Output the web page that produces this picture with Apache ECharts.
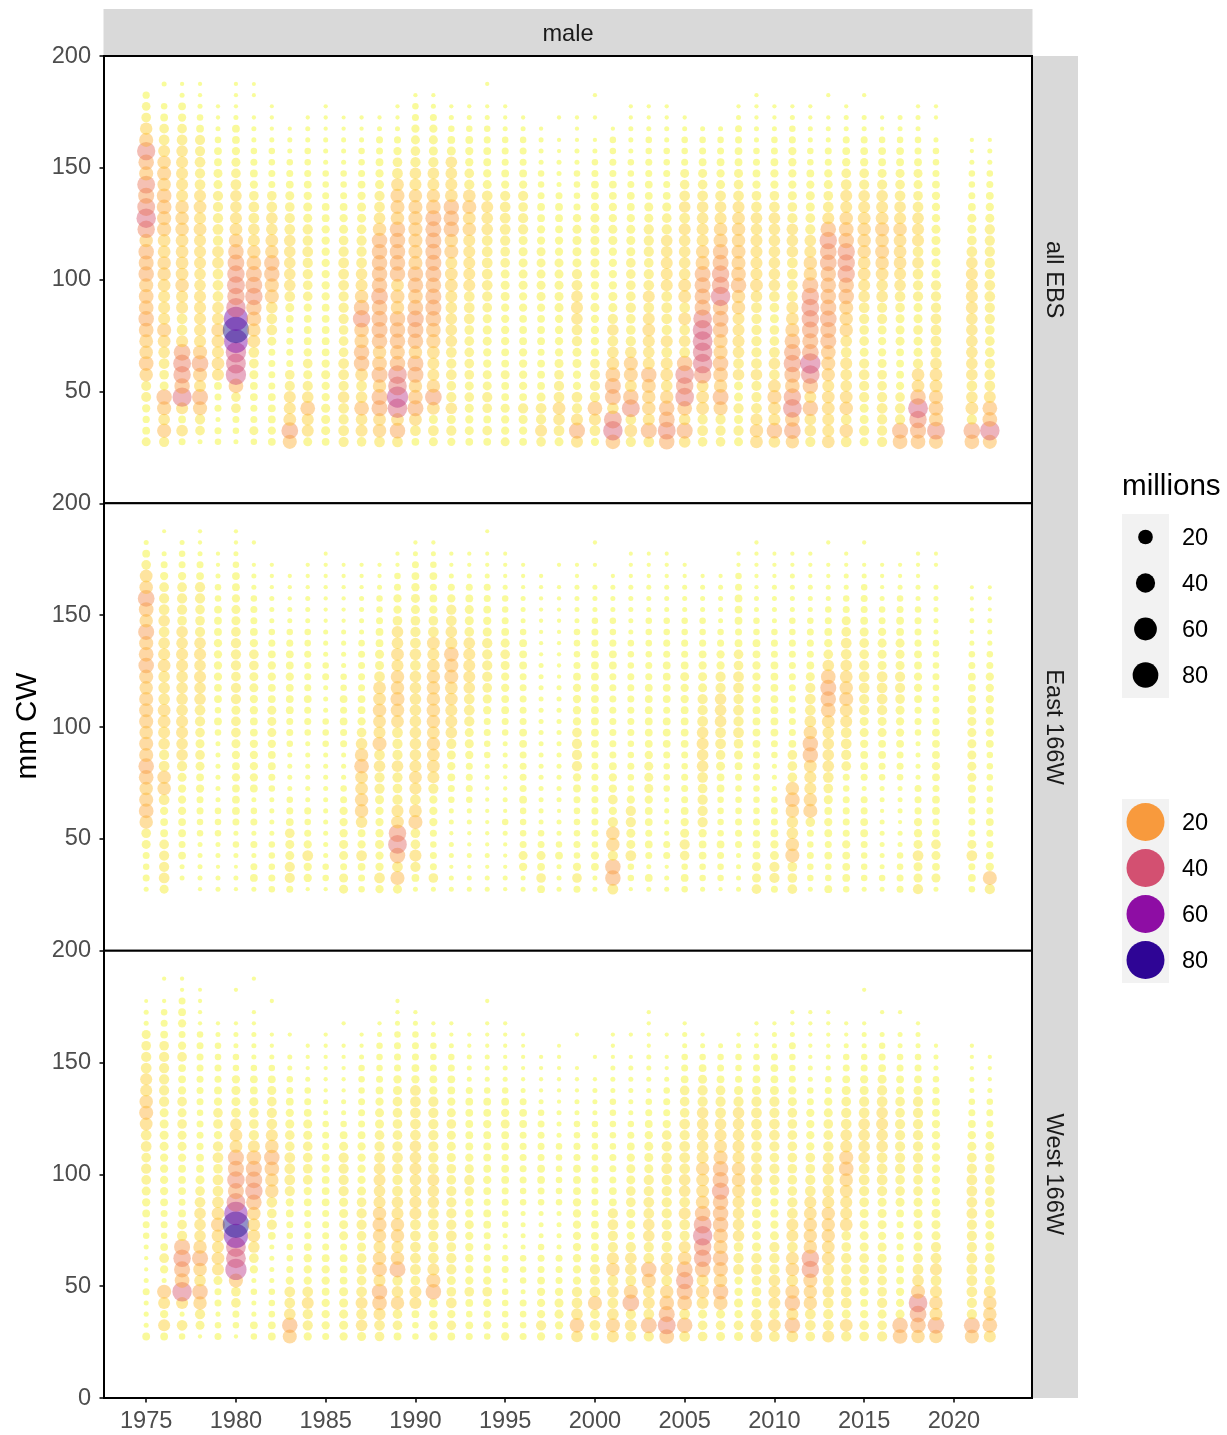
<!DOCTYPE html>
<html><head><meta charset="utf-8">
<style>html,body{margin:0;padding:0;background:#fff}#c{width:1227px;height:1435px}</style>
<script src="https://cdn.jsdelivr.net/npm/echarts@6/dist/echarts.min.js"></script>
</head><body><div id="c"></div>
<script>
const years=[1975,1976,1977,1978,1979,1980,1981,1982,1983,1984,1985,1986,1987,1988,1989,1990,1991,1992,1993,1994,1995,1996,1997,1998,1999,2000,2001,2002,2003,2004,2005,2006,2007,2008,2009,2010,2011,2012,2013,2014,2015,2016,2017,2018,2019,2021,2022];
const xTicks=[1975,1980,1985,1990,1995,2000,2005,2010,2015,2020];
const yTicks=[0,50,100,150,200];
const legendValues=[20,40,60,80];
const panelNames=['all EBS','East 166W','West 166W'];
const firstBin=27.5, binStep=5;
// values in millions, each list runs upward from the 27.5 mm bin; 0 = no point
const A1975=[3,1.5,1,2,4.5,4.5,13,17,13,14,17,20,17,17,15,20,18,20,13,28,38,30,22,30,15,20,32,15,10,4,2.5,1];
const A1976=[5,15,8,15,20,3,4,6,8,11,15,9,9,9,11,13,13,11,11,15,15,17,17,13,15,13,9,6,4,1.5,.7,0,.2];
const A1977=[.9,8,1.5,9,37,20,28,30,25,9,6,6,9,9,13,11,11,11,11,13,13,13,9,9,9,9,8,6,4,2,1.5,.2,.05];
const A1978=[.2,4,5,15,22,9,15,25,15,9,9,9,9,9,8,8,9,9,9,11,9,11,9,6,5,6,5,5,1.5,.7,.2,.05,.05];
const A1979=[.7,.9,.2,.9,.9,1.5,9,11,9,11,13,9,8,6,6,6,8,8,5,6,5,5,5,3,3,1.5,1.5,.7,.2,.05,.05];
const A1980=[.2,.7,.9,4,4,17,43,40,43,64,85,68,38,28,30,28,25,20,15,11,9,8,8,6,4,3,2,1.5,1.5,.2,.05,.05,.05];
const A1981=[.7,3,.9,.9,1.5,1.5,3,4,6,11,13,17,20,28,25,22,17,13,9,8,6,6,4,2,1.5,.9,.7,.2,.2,.05,0,.02,.02];
const A1982=[1.5,2,1.5,1.5,1.5,.9,.9,.9,.9,3,6,6,8,15,15,20,20,13,11,8,8,6,4,.9,.9,.7,.7,.2,.05,.05,.02];
const A1983=[15,25,11,9,9,5,4,.9,.9,.9,.9,1.5,3,6,8,8,8,8,8,6,5,4,3,1.5,.9,.7,.2,.2,.05];
const A1984=[3,9,9,17,8,5,3,4,2,1.5,1.5,1.5,2,4,4,5,5,6,5,5,3,3,2,1.5,.9,.7,.7,.2,.2,.05];
const A1985=[1.5,3,3,3,2,2,3,2,1.5,1.5,1.5,1.5,1.5,2,2,2,2,2,2,2,1.5,1.5,.9,.7,.7,.2,.2,.2,.05,.05,.05];
const A1986=[5,6,5,6,8,5,6,6,4,4,4,5,5,5,6,6,6,5,4,3,2,1.5,.9,.7,.7,.2,.2,.2,.05,.02];
const A1987=[4,9,8,17,8,6,11,20,20,15,17,28,20,13,9,8,6,5,5,4,3,3,2,1.5,.9,.7,.7,.2,.05,.05];
const A1988=[6,13,11,22,22,13,22,17,13,20,22,22,20,25,20,20,20,20,20,13,8,6,5,3,2,1.5,.9,.9,.2,.05];
const A1989=[6,20,11,38,48,34,34,20,17,20,20,20,13,15,11,20,20,20,20,20,13,15,15,11,6,4,2,.9,.2,.05,.05];
const A1990=[1.5,6,11,22,17,13,22,22,13,20,22,25,20,17,20,20,15,15,15,15,15,15,13,9,8,5,4,3,2,.9,.7,.05];
const A1991=[3,6,3,11,25,13,9,9,11,15,17,20,22,22,20,22,22,22,22,22,22,17,13,9,8,5,3,3,2,.9,.2,.05];
const A1992=[2,5,3,8,5,4,6,5,6,8,8,8,8,9,11,11,9,15,13,20,20,20,11,9,8,8,3,1.5,.7,.2,.05];
const A1993=[1.5,3,2,3,4,3,4,4,4,4,4,6,6,6,9,9,9,9,9,13,11,15,11,5,4,2,2,1.5,.7,.2,.05];
const A1994=[1.5,4,1.5,4,5,3,3,2,2,3,3,3,4,5,6,6,6,6,6,8,8,9,6,3,2,1.5,1.5,.9,.7,.2,.05,0,.05];
const A1995=[3,2,2,3,1.5,1.5,3,1.5,1.5,2,2,2,2,3,3,3,4,4,5,6,6,6,5,2,1.5,.9,.9,.7,.2,.05,.05];
const A1996=[1.5,2,3,5,1.5,2,2,2,2,1.5,1.5,1.5,2,2,3,3,3,3,3,5,5,4,5,2,1.5,.9,.9,.7,.2,.05];
const A1997=[4,9,5,6,3,1.5,1.5,1.5,.9,1.5,1.5,1.5,2,3,3,3,3,3,2,2,1.5,1.5,.9,.7,.7,.2,.2,.2,.05];
const A1998=[3,6,8,11,6,5,4,3,2,2,2,2,3,3,3,3,3,2,2,1.5,1.5,1.5,.9,.2,.2,.2,.05,.05,0,.05];
const A1999=[9,22,9,5,6,2,2,3,3,5,6,8,9,8,6,5,3,3,3,3,2,.9,.7,.7,.7,.2,.2,.05,.05,.05];
const A2000=[2,6,9,17,5,5,5,4,2,2,2,2,3,2,2,3,3,3,3,3,3,2,1.5,1.5,.9,.7,.2,.05,0,.05,0,.05];
const A2001=[17,38,30,8,22,22,17,11,8,6,8,5,3,3,2,2,2,2,3,3,2,2,1.5,1.5,.9,.9,.7,.7,.05];
const A2002=[5,11,6,30,20,9,15,15,8,5,4,4,5,4,4,4,4,3,3,3,2,1.5,1.5,.9,.7,.7,.2,.2,.2,.05,.05];
const A2003=[6,22,9,13,13,15,20,9,8,9,11,9,6,9,6,5,4,5,5,5,3,3,1.5,1.5,.9,.9,.7,.7,.2,.05,.05];
const A2004=[20,30,22,20,13,8,11,9,6,9,5,6,6,6,9,9,9,8,8,5,4,3,1.5,.9,.9,.7,.7,.2,.2,.05,.05];
const A2005=[8,22,8,17,34,28,34,20,6,8,6,11,6,11,11,8,8,8,8,9,6,8,6,4,3,.9,.7,.7,.2,.05];
const A2006=[4,6,5,11,11,9,28,38,38,40,40,34,22,22,22,22,15,13,9,9,8,8,6,4,3,1.5,.9,.7,.2];
const A2007=[4,5,5,15,22,13,17,20,15,15,20,22,20,38,28,28,22,20,15,13,9,8,6,3,2,1.5,.9,.7,.2];
const A2008=[3,5,3,5,3,3,8,6,8,9,9,9,13,13,20,17,15,15,13,13,11,9,6,4,3,1.5,1.5,.9,.9,.2,.05];
const A2009=[11,13,9,6,5,5,8,6,5,5,5,5,6,8,11,9,9,9,9,8,8,6,4,2,1.5,.9,.7,.2,.2,.05,.05,.05];
const A2010=[8,20,9,11,15,11,6,8,6,4,4,3,4,6,8,8,8,8,8,8,8,6,4,2,2,1.5,.9,.7,.2,.05,.05];
const A2011=[13,25,17,34,28,17,22,28,25,20,15,11,9,6,6,6,6,8,8,8,5,4,3,2,2,2,2,.9,.7,.2,.05];
const A2012=[5,8,8,20,9,20,34,43,25,22,25,28,30,28,22,13,13,9,8,5,4,3,3,2,1.5,.7,.7,.2,.2,.05,.05];
const A2013=[11,9,9,11,11,9,13,15,17,22,22,25,22,20,20,20,25,25,28,20,9,6,4,3,2,.9,.9,.2,.2,.05,0,.05];
const A2014=[6,13,6,13,11,8,8,9,6,8,13,13,15,20,20,28,28,28,20,17,13,9,9,6,4,2,1.5,.9,.2,.2,.05];
const A2015=[3,5,3,3,5,5,6,5,3,4,4,5,6,8,9,11,11,13,13,13,11,9,8,5,4,2,1.5,.9,.2,.2,0,.05];
const A2016=[5,5,5,6,5,4,4,3,2,2,3,5,5,8,8,11,13,15,13,15,11,9,8,5,3,1.5,1.5,.7,.05,.05];
const A2017=[17,22,5,5,4,2,1.5,1.5,1.5,3,3,3,4,6,8,9,11,11,11,13,9,8,6,4,3,1.5,1.5,.7,.2,.2];
const A2018=[17,22,28,40,20,11,11,5,3,3,4,3,3,5,5,6,8,6,9,9,8,6,4,3,3,1.5,.9,.7,.2,.2,.05];
const A2019=[15,30,15,17,15,11,11,8,6,6,6,6,5,5,5,3,3,3,3,3,2,2,2,1.5,.9,.7,.7,.2,0,.05,.05];
const A2021=[17,25,5,11,8,6,8,8,8,8,8,8,9,9,9,9,8,6,4,3,3,1.5,.9,.7,.7,.2,.05,.05];
const A2022=[15,38,17,17,9,6,6,5,4,4,4,5,5,6,6,5,5,5,5,5,3,2,1.5,.9,.7,.2,.2,.05];
const E1975=[.2,.9,.7,.9,3,4,13,17,15,13,17,20,15,15,13,15,15,15,13,15,20,17,15,22,13,17,25,13,11,4,1.5,.2];
const E1976=[3,6,5,5,4,1.5,1.5,2,6,13,13,6,5,8,9,11,11,8,8,8,11,9,8,6,8,6,5,4,2,.9,.2,0,.02];
const E1977=[0,.2,.2,1.5,.9,1.5,1.5,2,2,2,3,5,8,8,9,9,8,8,8,8,9,9,8,8,4,5,5,4,2,.9,.7,.2];
const E1978=[.05,.2,.2,.2,.2,.7,.7,.9,.9,2,1.5,3,4,3,4,5,6,8,8,9,8,9,8,5,4,4,5,5,1.5,.9,.2,.05,.05];
const E1979=[.2,.2,.05,.2,.2,.7,.7,.7,.2,.2,.2,.2,.2,.2,.7,1.5,.7,1.5,1.5,2,2,2,2,1.5,1.5,1.5,.7,.7,.2,.05,.05];
const E1980=[.05,.2,.02,.2,.7,.2,.9,1.5,1.5,1.5,2,1.5,2,3,4,4,3,5,5,4,5,5,5,4,3,3,2,1.5,1.5,.7,.2,.05,.05];
const E1981=[.2,1.5,.9,.2,.9,.2,.9,.7,.2,1.5,2,2,2,2,1.5,1.5,2,2,3,3,4,4,2,1.5,.9,.9,.7,.2,.2,.05,0,.05];
const E1982=[.7,.9,.7,.7,.7,.2,.2,.2,.2,.7,.9,1.5,1.5,2,3,3,3,1.5,1.5,2,2,1.5,.9,.7,.2,.2,.2,.05,.05,.05];
const E1983=[.9,5,5,3,3,4,1.5,.9,.7,.2,.2,.2,.2,.7,.9,.9,1.5,1.5,1.5,2,1.5,1.5,.9,.7,.2,.2,.05,.05,.05];
const E1984=[.05,2,2,6,2,.9,.7,.9,.2,.2,.2,.2,.2,.2,.7,.9,.9,1.5,.9,.9,.9,.9,.7,.7,.2,.2,.2,.05,.05,.05];
const E1985=[.05,.7,.7,.2,.2,.2,.2,.2,.2,.2,.2,.2,.2,.7,.7,.7,.2,.2,.2,.9,.7,.2,.2,.2,.05,.05,.05,.05,.05,.05,.02];
const E1986=[3,3,.9,3,3,2,2,2,.9,.7,.2,.2,.2,.9,.9,1.5,.9,1.5,.7,.7,.2,.2,.2,.2,.05,.05,.05,.05,.05,.02];
const E1987=[.7,.9,1.5,6,2,1.5,8,13,13,11,11,17,13,8,4,2,1.5,1.5,.9,.9,.9,.9,.7,.2,.2,.2,.2,.05,.05,.05];
const E1988=[2,6,2,2,3,2,2,2,3,5,5,8,6,15,9,11,13,11,11,6,3,3,1.5,1.5,.9,.7,.7,.2,.05,.05];
const E1989=[3,15,6,20,34,28,11,9,5,4,5,8,5,5,6,11,13,15,13,13,9,11,8,8,4,2,2,.9,.7,.05,.05];
const E1990=[.2,1.5,5,9,4,4,15,11,6,9,11,9,8,8,8,8,8,8,8,8,6,8,6,5,4,3,3,2,1.5,.9,.2,.05];
const E1991=[.2,4,.9,.9,.7,.9,2,2,2,5,9,11,11,13,11,13,13,13,13,13,11,9,11,6,4,2,1.5,.9,1.5,.7,.2,.05];
const E1992=[.2,.2,.05,.2,.2,.05,.2,.2,.7,.9,1.5,2,3,5,8,9,9,11,11,15,15,17,9,8,6,5,2,.9,.2,.05,.05];
const E1993=[.2,.2,.05,.2,.05,.05,.2,.2,.7,.9,.9,.9,2,3,3,5,6,6,8,9,9,9,8,4,3,3,1.5,.9,.2,.05,.05];
const E1994=[.2,.2,.05,.2,.05,.05,.05,.05,.05,.05,.2,.2,.7,.7,.9,.9,2,3,4,5,5,5,5,3,2,1.5,.9,.9,.2,.05,.02,0,.02];
const E1995=[.05,.2,.05,.05,.05,.2,.7,.05,.2,.05,.05,.2,.2,.2,.7,.9,1.5,1.5,2,2,3,4,3,1.5,.9,.7,.7,.2,.05,.05,.02];
const E1996=[.2,.2,2,3,.9,.7,.7,.7,1.5,.9,.9,.9,.9,1.5,1.5,.9,.9,.9,.9,.9,1.5,1.5,1.5,.7,.2,.2,.2,.05,.05,.05];
const E1997=[1.5,4,1.5,3,.9,.7,.2,.2,.2,.2,.2,.2,.2,.2,.2,.2,.2,.2,.2,.2,.2,.05,.05,.05,.05,.05,.05,.05,.05];
const E1998=[.2,.2,.2,1.5,.7,.2,.2,.05,.2,.2,.2,.2,.2,.2,.2,.2,.2,.2,.2,.05,.05,.05,.05,.05,.05,.05,.05,.05,0,.05];
const E1999=[.9,4,2,.7,.9,.7,.7,.7,.9,1.5,2,5,5,5,4,2,2,2,2,1.5,.9,.7,.7,.7,.2,.2,.2,.2,.05,.05];
const E2000=[.2,.2,1.5,2,.7,.9,.9,.9,.9,.9,.9,.9,.9,1.5,1.5,1.5,1.5,1.5,1.5,1.5,1.5,1.5,.9,.9,.7,.2,.2,.2,0,.05,0,.05];
const E2001=[6,20,20,5,13,13,5,2,4,2,2,1.5,.9,.9,.9,.9,.9,.9,.9,.9,1.5,1.5,.9,.7,.7,.2,.2,.2,.05];
const E2002=[.05,.7,.7,6,3,3,5,5,2,.7,.7,.9,.7,.7,.9,.9,.9,.9,.9,.9,.7,.7,.7,.2,.2,.2,.2,.2,.05,.05,.02];
const E2003=[.2,1.5,.2,.9,1.5,.9,1.5,1.5,2,3,3,3,2,1.5,1.5,1.5,1.5,1.5,1.5,.9,.9,.7,.7,.7,.7,.2,.2,.2,.05,.05,.02];
const E2004=[.2,.2,.05,.9,.9,.2,.2,.2,.2,.7,.7,.7,.9,1.5,1.5,1.5,.9,1.5,1.5,1.5,1.5,.9,.9,.7,.7,.2,.2,.2,.05,.05,.02];
const E2005=[.7,1.5,.7,4,5,3,2,1.5,.9,.9,.9,.7,.9,1.5,1.5,1.5,1.5,2,2,3,1.5,.9,.9,.7,.7,.2,.2,.2,.05,.05];
const E2006=[.2,.7,.7,1.5,1.5,2,5,5,5,4,6,8,8,9,8,6,5,5,3,3,2,1.5,.9,.7,.7,.2,.2,.2,.05];
const E2007=[.05,.7,.7,.9,1.5,.7,.7,.7,.7,1.5,1.5,3,4,6,6,8,8,8,5,5,2,2,.9,.7,.2,.2,.2,.2,.05];
const E2008=[.2,.2,.2,.2,.9,.9,.9,.7,.7,.7,.9,1.5,3,4,6,5,6,5,6,6,4,4,1.5,.9,1.5,1.5,1.5,.9,.7,.05,.05];
const E2009=[4,3,3,1.5,1.5,.9,.9,.7,.7,.7,.9,.9,.9,1.5,1.5,1.5,1.5,2,2,2,2,1.5,1.5,.7,.7,.2,.2,.05,.05,.05,.05,.05];
const E2010=[.9,5,5,3,2,1.5,.9,.9,.7,.2,.2,.2,.7,.9,1.5,1.5,1.5,1.5,1.5,1.5,1.5,.9,.9,.7,.2,.2,.2,.2,.05,.05,.02];
const E2011=[4,4,4,15,13,8,8,13,17,13,4,4,4,1.5,.9,.9,.9,.9,.9,.9,.9,.9,.9,.7,.7,.2,.2,.2,.2,.05,.05];
const E2012=[.2,.7,.7,.9,.7,.9,4,15,13,9,9,11,20,20,13,8,6,6,5,3,1.5,.9,.9,.9,.7,.2,.2,.2,.05,.05,.05];
const E2013=[1.5,.7,.7,1.5,.9,1.5,2,1.5,3,4,6,8,8,8,8,11,17,20,22,17,8,4,2,1.5,.9,.7,.2,.2,.05,.05,0,.05];
const E2014=[.7,1.5,1.5,1.5,2,.9,.9,.9,.9,.7,.9,4,5,6,6,9,11,15,13,11,8,6,6,4,3,.9,.7,.2,.2,.05,.05];
const E2015=[.2,.7,.7,.7,.9,1.5,1.5,.9,.9,.2,.9,1.5,1.5,2,3,3,5,5,6,6,5,4,4,3,1.5,.9,.9,.7,.2,.05,0,.05];
const E2016=[.2,.7,.2,.2,.2,.2,.2,.05,.2,.2,.7,.9,1.5,1.5,3,3,5,6,6,6,3,3,3,2,.9,.7,.2,.05,.05,.05];
const E2017=[.9,.9,.7,.7,.2,.2,.05,.2,.2,.2,.7,.9,.9,1.5,2,2,3,4,5,5,3,3,3,1.5,1.5,.9,.7,.2,.05,.05];
const E2018=[5,3,3,6,3,2,2,.9,.9,.9,.2,.2,.2,.2,.7,.9,.9,1.5,2,2,1.5,1.5,.9,.9,.9,.7,.2,.2,.05,.05,.05];
const E2019=[.2,3,1.5,3,4,1.5,.9,1.5,1.5,.9,1.5,2,1.5,1.5,1.5,.9,.9,.7,.7,.9,.7,.7,.7,.2,.2,.2,.2,.2,0,.05,.02];
const E2021=[.7,1.5,.9,6,3,.9,.9,.9,1.5,2,3,3,3,3,3,3,3,2,1.5,1.5,.9,.7,.2,.05,.2,.02,.02,.02];
const E2022=[5,15,2,1.5,.9,.9,1.5,.9,.7,.7,.7,.7,.7,1.5,2,2,2,2,2,2,.9,.7,.2,.2,.2,.02,.02,.02];
const W1975=[1.5,.2,.2,.2,.9,.2,.05,.05,.2,.7,.9,1.5,2,3,4,5,4,6,6,11,15,13,9,9,6,5,4,3,.2,.2,.02];
const W1976=[1.5,9,2,9,15,.2,2,4,1.5,.7,.9,.9,1.5,2,2,2,2,3,3,3,3,5,5,5,5,5,4,1.5,.9,.7,.05,0,.05];
const W1977=[.7,6,.2,9,38,17,22,28,22,5,4,1.5,.9,1.5,1.5,1.5,2,3,3,4,3,4,2,1.5,1.5,4,2,.9,2,1.5,.9,.05,.05];
const W1978=[.05,3,5,13,20,8,13,22,13,8,8,8,6,4,3,1.5,1.5,.9,.9,.9,.7,.9,.9,.9,.9,.9,.9,.7,.05,.05,.05,.02];
const W1979=[.9,.7,.2,.9,.9,3,9,11,9,11,15,11,8,6,6,4,6,5,2,4,4,2,1.5,.9,.9,.7,.7,.2,.05];
const W1980=[.05,.7,.9,4,4,15,48,40,40,68,85,62,34,22,28,22,22,11,11,8,4,3,3,2,.7,.7,.2,.2,.05,0,0,.05];
const W1981=[.7,1.5,.2,.2,.7,.2,2,4,8,11,11,13,20,28,25,22,17,9,5,4,4,3,1.5,1.5,.7,.2,.2,.2,.05,.05,0,0,.05];
const W1982=[1.5,1.5,.7,.7,.7,.2,.2,.2,.2,1.5,5,4,6,13,13,17,20,13,9,6,5,4,3,1.5,.7,.2,.05,.05,0,0,.05];
const W1983=[15,20,8,6,6,2,.9,.7,.7,.7,.9,1.5,2,5,6,6,6,4,4,3,2,1.5,.9,.7,.2,.2,0,.05];
const W1984=[2,5,5,9,6,2,2,2,1.5,.9,.9,.9,1.5,2,4,4,4,4,3,3,1.5,.9,.7,.2,.05,.05,.05];
const W1985=[.9,2,2,2,1.5,2,2,1.5,.9,.9,.9,.9,1.5,1.5,1.5,2,1.5,.9,.9,.7,.2,.2,.05,.05,.05,.05,.05,.05];
const W1986=[2,3,3,3,3,1.5,1.5,1.5,.9,3,3,3,3,5,5,5,5,3,1.5,.7,.2,.2,.05,.05,.05,.05,.05,0,.05];
const W1987=[3,8,6,9,6,4,5,4,3,4,5,5,4,3,2,2,2,2,1.5,.9,.9,.9,.7,.7,.7,.2,.05,.05];
const W1988=[4,6,9,17,20,9,17,13,9,13,15,13,9,8,9,8,6,5,4,3,3,2,1.5,.9,.7,.7,.7,.2,.05];
const W1989=[1.5,4,4,13,8,5,22,13,9,13,13,9,8,6,5,6,6,5,4,4,4,4,3,2,.9,.9,.9,.7,.2,.05,.05];
const W1990=[.7,.7,1.5,9,9,4,6,6,6,6,6,9,9,8,8,9,8,8,6,6,6,6,6,2,1.5,.9,.9,.7,.2,.05];
const W1991=[2,3,2,3,20,15,9,6,5,5,6,6,8,8,9,6,5,5,5,5,5,5,2,1.5,.9,.7,.7,.2,.05];
const W1992=[1.5,4,2,6,4,3,5,5,4,6,5,5,5,5,4,4,3,3,3,4,3,2,1.5,1.5,.9,.7,.2,.05,.05];
const W1993=[.9,1.5,.7,1.5,4,2,2,2,2,2,3,2,2,4,5,3,2,1.5,1.5,1.5,1.5,1.5,.9,.2,.2,.2,.05,.05];
const W1994=[.7,2,.9,2,4,2,1.5,.9,.9,.9,1.5,1.5,.9,1.5,2,1.5,1.5,1.5,1.5,2,1.5,1.5,.7,.2,.2,.2,.05,.05,.05,0,.05];
const W1995=[2,.7,.7,.7,.7,.2,.9,.7,.2,.2,.7,.7,.9,.9,1.5,1.5,.9,1.5,1.5,3,2,1.5,.7,.2,.2,.05,.05,.05,.05];
const W1996=[.9,.7,.7,.9,.2,.7,.7,.7,.2,.2,.2,.2,.7,.7,.9,.9,.9,.9,.9,1.5,1.5,.9,.2,.05,.05,.05,.02,.02];
const W1997=[2,5,2,2,2,1.5,.9,.9,.7,.2,.2,.2,.7,.9,1.5,1.5,.9,.9,.9,.9,.7,.2,.05,.05,.05,.05];
const W1998=[.9,2,3,3,2,.9,.9,.9,.2,.2,.2,.2,.7,.7,.7,.7,.7,.7,.2,.2,.2,.05,.05,.05,.05,.05,.02];
const W1999=[8,17,8,6,5,2,2,2,2,2,2,2,2,1.5,1.5,1.5,.9,.9,.7,.7,.2,.2,.05,.05,.05,0,0,.05];
const W2000=[1.5,6,4,15,6,4,5,2,1.5,1.5,1.5,.9,.9,.9,.9,.9,.7,.7,.7,.7,.2,.2,.2,.05,0,.05];
const W2001=[9,15,8,6,8,6,13,9,5,5,6,5,1.5,1.5,.9,.9,.9,.7,.7,.7,.7,.7,.2,.2,.2,.05,.05,.05];
const W2002=[5,9,5,25,15,6,8,8,5,2,3,3,4,4,3,3,2,1.5,.9,.7,.2,.2,.2,.2,.2,.05,0,.05];
const W2003=[5,22,6,9,8,15,20,6,5,8,8,6,6,5,5,3,3,3,2,1.5,.9,.7,.2,.2,.2,.2,.05,.05,.05,.05];
const W2004=[17,30,22,17,13,6,11,8,5,5,5,5,5,5,5,6,5,5,4,2,.9,.9,.7,.2,.05,.05,0,.05];
const W2005=[6,20,6,17,22,28,22,13,9,5,6,9,6,8,8,6,6,6,5,6,4,4,4,1.5,.9,.7,.2,.2,.05];
const W2006=[4,4,3,9,13,9,20,28,28,38,30,20,13,11,11,13,9,8,8,8,8,5,5,3,1.5,.7,.2,.05];
const W2007=[3,4,3,15,20,13,17,20,15,17,20,20,20,28,22,20,15,11,9,8,6,5,4,1.5,.9,.7,.2];
const W2008=[3,4,2,3,2,2,6,5,4,8,8,8,9,11,13,13,9,9,8,8,8,5,3,.9,.7,.7,.2,.05];
const W2009=[8,9,5,4,4,4,6,5,3,3,3,3,4,5,8,6,6,5,6,6,6,5,3,1.5,.9,.7,.2,.05,.05];
const W2010=[6,11,5,9,9,8,5,5,5,3,2,2,2,3,5,5,4,5,6,6,5,5,3,1.5,1.5,.9,.2,.2,.05];
const W2011=[8,20,9,20,15,8,13,11,6,9,9,6,5,4,4,4,4,4,4,4,4,3,2,.9,.7,.7,.9,.2,.05,.05];
const W2012=[4,6,6,13,13,15,28,28,13,13,13,11,9,6,5,4,4,2,2,2,2,.9,.7,.2,.2,.05,.05,.05,.05,.05];
const W2013=[9,6,5,6,8,6,8,11,11,13,13,13,9,8,6,8,6,5,4,4,3,2,.9,.7,.2,.2,.05,.05,.05,.05];
const W2014=[5,11,3,6,6,5,5,5,4,4,11,9,9,11,13,17,15,9,8,6,5,4,3,1.5,.9,.7,.2,.05,.05];
const W2015=[4,4,2,1.5,3,4,4,4,3,3,3,3,4,5,6,6,8,8,8,8,6,5,3,2,.9,.7,.2,.2,.05,0,0,.05];
const W2016=[5,4,3,5,4,4,4,3,3,2,3,3,3,5,6,6,6,8,8,9,8,6,5,3,1.5,.9,.7,.2,0,.05];
const W2017=[17,20,3,2,2,1.5,1.5,1.5,.9,1.5,.9,1.5,3,4,4,5,5,5,5,5,4,4,2,1.5,.9,.7,.2,.2,0,.05];
const W2018=[13,20,25,34,15,8,6,4,3,3,3,3,3,4,4,5,5,5,5,5,5,5,3,1.5,.9,.7,.2,.2,.05];
const W2019=[13,25,11,13,9,6,9,6,5,3,3,3,2,2,2,2,2,2,2,2,1.5,1.5,.9,.7,.2,.2,.05];
const W2021=[15,22,5,5,6,6,6,6,5,5,5,6,6,6,6,5,4,3,2,1.5,.9,.7,.2,.2,.05,.05,.05];
const W2022=[9,17,13,13,9,4,5,4,3,3,3,3,4,4,4,4,3,3,2,.9,.9,.7,.2,.05,.05,.05];

const allEBS=[A1975,A1976,A1977,A1978,A1979,A1980,A1981,A1982,A1983,A1984,A1985,A1986,A1987,A1988,A1989,A1990,A1991,A1992,A1993,A1994,A1995,A1996,A1997,A1998,A1999,A2000,A2001,A2002,A2003,A2004,A2005,A2006,A2007,A2008,A2009,A2010,A2011,A2012,A2013,A2014,A2015,A2016,A2017,A2018,A2019,A2021,A2022];
const east166=[E1975,E1976,E1977,E1978,E1979,E1980,E1981,E1982,E1983,E1984,E1985,E1986,E1987,E1988,E1989,E1990,E1991,E1992,E1993,E1994,E1995,E1996,E1997,E1998,E1999,E2000,E2001,E2002,E2003,E2004,E2005,E2006,E2007,E2008,E2009,E2010,E2011,E2012,E2013,E2014,E2015,E2016,E2017,E2018,E2019,E2021,E2022];
const west166=[W1975,W1976,W1977,W1978,W1979,W1980,W1981,W1982,W1983,W1984,W1985,W1986,W1987,W1988,W1989,W1990,W1991,W1992,W1993,W1994,W1995,W1996,W1997,W1998,W1999,W2000,W2001,W2002,W2003,W2004,W2005,W2006,W2007,W2008,W2009,W2010,W2011,W2012,W2013,W2014,W2015,W2016,W2017,W2018,W2019,W2021,W2022];
const panels=[allEBS,east166,west166];

const plasma=['#0D0887','#41049D','#6A00A8','#8F0DA4','#B12A90','#CC4778','#E16462','#F1844B','#FCA636','#FCCE25','#F0F921'];
const maxValue=85.5;
const colorOf=v=>echarts.color.lerp(1-v/maxValue,plasma);
const sizeOf=v=>3.7+2.46*Math.sqrt(v);
const markSize=v=>sizeOf(v)+1.1*Math.min(1,v)*(1-v/maxValue);
const FONT='"Liberation Sans",Arial,sans-serif';
const TICK_FONT=23.6, TITLE_FONT=29.6;

const chart=echarts.init(document.getElementById('c'),null,{renderer:'canvas'});
const LEFT=104,RIGHT=1032,TOP=56,BOTTOM=1398;
const H=(BOTTOM-TOP)/3;

const grids=[],xAxes=[],yAxes=[],series=[];
panels.forEach((cols,p)=>{
  grids.push({left:LEFT,top:TOP+p*H,width:RIGHT-LEFT,height:H,show:true,borderColor:'#000',borderWidth:2,backgroundColor:'#fff',containLabel:false});
  xAxes.push({type:'value',gridIndex:p,min:1972.65,max:2024.35,splitLine:{show:false},
    axisLine:{show:false},
    axisTick:{show:p===2,length:4.5,lineStyle:{color:'#000',width:1.5},customValues:xTicks},
    axisLabel:{show:p===2,color:'#4D4D4D',fontSize:TICK_FONT,fontFamily:FONT,margin:11,customValues:xTicks,formatter:v=>String(v)}});
  yAxes.push({type:'value',gridIndex:p,min:0,max:200,interval:50,splitLine:{show:false},
    axisLine:{show:false},
    axisTick:{show:true,length:4.5,lineStyle:{color:'#000',width:1.5}},
    axisLabel:{color:'#4D4D4D',fontSize:TICK_FONT,fontFamily:FONT,margin:13,padding:[2,0,0,0],showMinLabel:p===2,
      formatter:v=>(v===0&&p!==2)?'':String(v)}});
  const data=[];
  cols.forEach((col,i)=>col.forEach((v,k)=>{if(v>0)data.push([years[i],firstBin+k*binStep,v]);}));
  series.push({type:'scatter',xAxisIndex:p,yAxisIndex:p,data,silent:true,animation:false,
    symbol:'circle',symbolSize:d=>markSize(d[2]),large:false,progressive:0,
    itemStyle:{opacity:0.45,borderWidth:0,color:q=>colorOf(q.value[2])}});
});

const txt=(x,y,text,size,extra)=>Object.assign({type:'text',x,y,silent:true,z:10,
  style:{text,fontSize:size,fontFamily:FONT,fill:(extra&&extra.fill)||'#000',
    align:(extra&&extra.align)||'left',verticalAlign:'middle'}},extra&&extra.rotation!==undefined?{rotation:extra.rotation}:{});
const graphic=[];
graphic.push({type:'rect',shape:{x:LEFT-.5,y:9,width:RIGHT-LEFT+1,height:TOP-9-1},style:{fill:'#D9D9D9'},silent:true});
graphic.push({type:'rect',shape:{x:RIGHT+1,y:TOP,width:45,height:BOTTOM-TOP},style:{fill:'#D9D9D9'},silent:true});
graphic.push(txt((LEFT+RIGHT)/2,34,'male',TICK_FONT,{align:'center',fill:'#1A1A1A'}));
panelNames.forEach((n,p)=>graphic.push(txt(1054,TOP+H*(p+.5),n,TICK_FONT,{align:'center',fill:'#1A1A1A',rotation:-Math.PI/2})));
graphic.push(txt(28,726,'mm CW',TITLE_FONT,{align:'center',rotation:Math.PI/2}));
graphic.push(txt(1122,487,'millions',TITLE_FONT));
graphic.push({type:'rect',shape:{x:1122,y:514,width:47,height:184},style:{fill:'#F2F2F2'},silent:true});
graphic.push({type:'rect',shape:{x:1122,y:799,width:47,height:184},style:{fill:'#F2F2F2'},silent:true});
legendValues.forEach((v,i)=>{
  const y1=537+46*i, y2=822+46*i;
  graphic.push({type:'circle',shape:{cx:1145.5,cy:y1,r:sizeOf(v)/2},style:{fill:'#000'},silent:true,z:5});
  graphic.push(txt(1182,y1+1,String(v),TICK_FONT));
  graphic.push({type:'circle',shape:{cx:1145.5,cy:y2,r:19},style:{fill:colorOf(v)},silent:true,z:5});
  graphic.push(txt(1182,y2+1,String(v),TICK_FONT));
});

chart.setOption({animation:false,backgroundColor:'#fff',grid:grids,xAxis:xAxes,yAxis:yAxes,series,graphic});
</script></body></html>
